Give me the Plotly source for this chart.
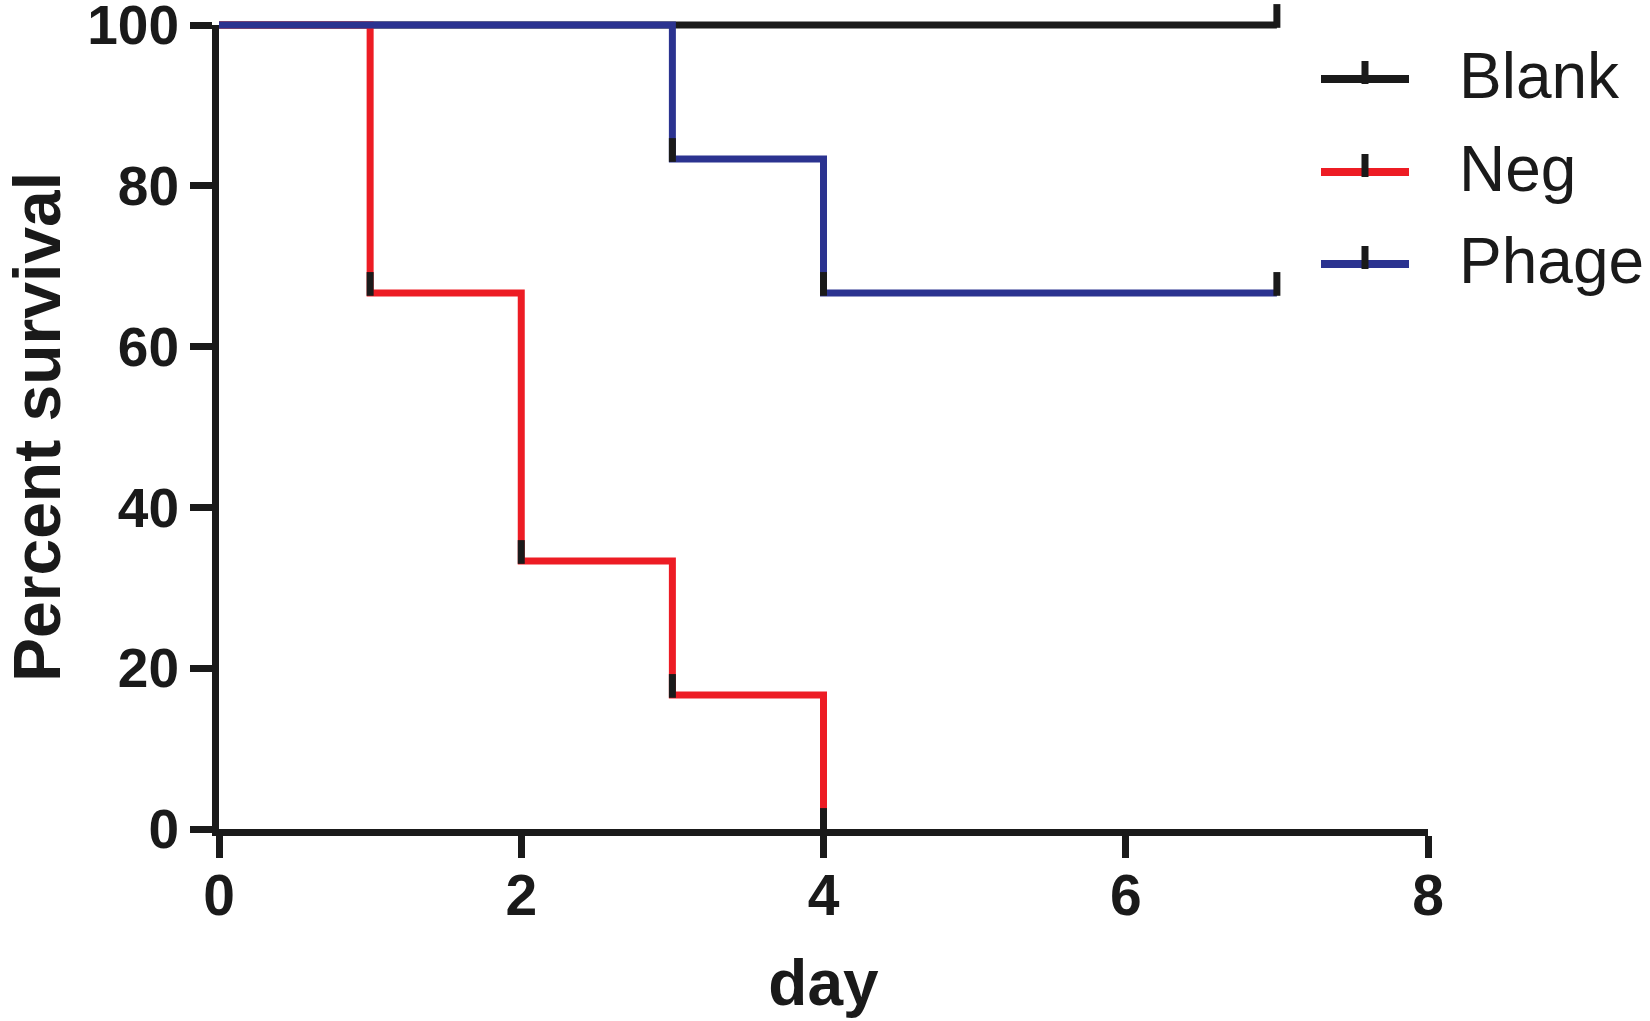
import plotly.graph_objects as go

# ---- data ----
series_names = ["Blank", "Neg", "Phage"]
series_colors = ["#1a1a1a", "#ed1c24", "#2b3390"]
days_blank = [0, 7]
surv_blank = [100, 100]
days_neg = [0, 1, 2, 3, 4]
surv_neg = [100, 66.67, 33.33, 16.67, 0]
days_phage = [0, 3, 4, 7]
surv_phage = [100, 83.33, 66.67, 66.67]
# which points carry a tick mark
marks_blank = [0, 1]
marks_neg = [0, 1, 1, 1, 1]
marks_phage = [0, 1, 1, 1]
x_ticks = [0, 2, 4, 6, 8]
y_ticks = [0, 20, 40, 60, 80, 100]

W, H = 1650, 1021
PLOT_L, PLOT_R = 219, 1428          # x=0 and x=8 in px
Y0_PX, Y100_PX = 829, 25            # y=0 and y=100 in px
ML = PLOT_L
MR = W - PLOT_R
MT = 0
MB = H - Y0_PX
PH = H - MT - MB                    # plot area height (px)
AXH = Y0_PX - Y100_PX               # axis height (px)
dom_top = AXH / PH
MARK_UP = 2.6
MARK_DN = 0.35
INK = "#1a1a1a"
FONT = "Liberation Sans, Arial, sans-serif"

fig = go.Figure()

# empty trace so the visible axis pair exists
fig.add_trace(go.Scatter(x=[None], y=[None], xaxis="x", yaxis="y",
                         showlegend=False, hoverinfo="skip", mode="lines"))

series = [
    (days_blank, surv_blank, marks_blank),
    (days_neg, surv_neg, marks_neg),
    (days_phage, surv_phage, marks_phage),
]
for (xs, ys, mk), name, col in zip(series, series_names, series_colors):
    fig.add_trace(go.Scatter(
        x=xs, y=ys, name=name, mode="lines",
        line=dict(color=col, width=7, shape="hv"),
        xaxis="x", yaxis="y2", showlegend=False,
    ))
    fig.add_trace(go.Scatter(
        x=xs, y=ys, mode="markers", marker=dict(size=1, color="rgba(0,0,0,0)"),
        error_y=dict(type="data", symmetric=False,
                     array=[MARK_UP * m for m in mk],
                     arrayminus=[MARK_DN * m for m in mk],
                     thickness=7, width=0, color=INK),
        xaxis="x", yaxis="y2", showlegend=False, hoverinfo="skip",
    ))

axis_common = dict(
    showline=True, linewidth=7, linecolor=INK,
    ticks="outside", ticklen=22, tickwidth=7, tickcolor=INK,
    showgrid=False, zeroline=False, ticklabeloverflow="allow",
    automargin=False,
)

fig.update_layout(
    width=W, height=H,
    margin=dict(l=ML, r=MR, t=MT, b=MB, autoexpand=False),
    paper_bgcolor="white", plot_bgcolor="white",
    showlegend=False,
    xaxis=dict(range=[0, 8], tickvals=x_ticks, anchor="y",
               tickfont=dict(family=FONT, size=57, color=INK, weight="bold"),
               title=dict(text="day", font=dict(family=FONT, size=64, color=INK, weight="bold"),
                          standoff=36),
               ticklabelstandoff=-11,
               **axis_common),
    yaxis=dict(range=[0, 100], tickvals=y_ticks, domain=[0, dom_top], anchor="x",
               tickfont=dict(family=FONT, size=55, color=INK, weight="bold"),
               title=dict(text="Percent survival",
                          font=dict(family=FONT, size=66, color=INK, weight="bold"),
                          standoff=58),
               ticklabelstandoff=0,
               **axis_common),
    yaxis2=dict(range=[0, 100 * PH / AXH], domain=[0, 1], anchor="x",
                visible=False, fixedrange=True, automargin=False),
)

# ---- legend (drawn by hand to match the long line keys) ----
def px_to_paper_y(py):
    return (Y0_PX - py) / PH

def px_to_paper_x(px):
    return (px - PLOT_L) / (PLOT_R - PLOT_L)

legend_rows_px = [79, 172, 264]
for name, col, py in zip(series_names, series_colors, legend_rows_px):
    yp = px_to_paper_y(py)
    fig.add_shape(type="line", xref="paper", yref="paper",
                  x0=px_to_paper_x(1321), x1=px_to_paper_x(1409), y0=yp, y1=yp,
                  line=dict(color=col, width=8))
    fig.add_shape(type="line", xref="paper", yref="paper",
                  x0=px_to_paper_x(1365), x1=px_to_paper_x(1365),
                  y0=px_to_paper_y(py + 5), y1=px_to_paper_y(py - 18),
                  line=dict(color=INK, width=7))
    fig.add_annotation(text=name, xref="paper", yref="paper",
                       x=px_to_paper_x(1457), y=px_to_paper_y(py - 3),
                       xanchor="left", yanchor="middle", showarrow=False,
                       font=dict(family=FONT, size=64, color=INK))

# the page body carries a default 8px margin; remove it so the figure sits at 0,0
fig.write_html("out.html", config={"displayModeBar": False},
               post_script="document.body.style.margin='0';")
